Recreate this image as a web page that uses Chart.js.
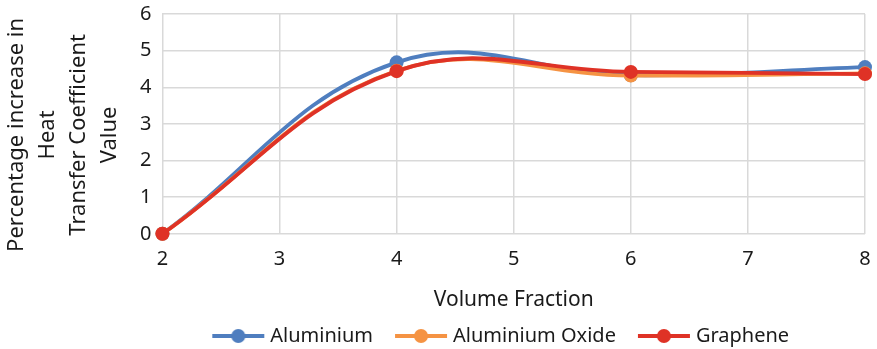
<!DOCTYPE html>
<html>
<head>
<meta charset="utf-8">
<script src="https://cdn.jsdelivr.net/npm/chart.js@4/dist/chart.umd.min.js"></script>
<style>
  html, body { margin: 0; padding: 0; background: #fff; }
  #wrap { width: 877px; height: 349px; }
</style>
</head>
<body>
<div id="wrap"><canvas id="chart"></canvas></div>
<script>
// volume fraction vs. % increase in heat transfer coefficient
const volumeFraction = [2, 4, 6, 8];
const aluminium      = [0, 4.68, 4.33, 4.55];
const aluminiumOxide = [0, 4.45, 4.32, 4.38];
const graphene       = [0, 4.44, 4.42, 4.36];
const yTicks = [0, 1, 2, 3, 4, 5, 6];
const yTitle = ['Percentage increase in', 'Heat', 'Transfer Coefficient', 'Value'];

const FONT = '"Noto Sans", sans-serif';
const TXT = '#1a1a1a';

// legend marker: short line with a dot, with some blank room on its left
function marker(color) {
    const c = document.createElement('canvas');
    c.width = 70; c.height = 16;
    const g = c.getContext('2d');
    g.strokeStyle = color; g.lineWidth = 3.8;
    g.beginPath(); g.moveTo(17, 8); g.lineTo(69, 8); g.stroke();
    g.fillStyle = color;
    g.beginPath(); g.arc(43, 8, 7, 0, Math.PI * 2); g.fill();
    return c;
}

// rotated multi-line y axis title, sitting a bit below the plot's middle
const yTitlePlugin = {
    id: 'yTitle',
    afterDraw(chart) {
        const { ctx, chartArea } = chart;
        ctx.save();
        ctx.translate(17, (chartArea.top + chartArea.bottom) / 2 + 11);
        ctx.rotate(-Math.PI / 2);
        ctx.font = '22px ' + FONT;
        ctx.fillStyle = TXT;
        ctx.textAlign = 'center';
        ctx.textBaseline = 'middle';
        yTitle.forEach((t, i) => ctx.fillText(t, 0, i * 31));
        ctx.restore();
    }
};

// nudge the legend a little left of the plot's centre
const legendShift = {
    id: 'legendShift',
    afterLayout(chart) {
        chart.legend.left -= 19;
        chart.legend.right -= 19;
    }
};

const series = [
    { label: 'Aluminium', values: aluminium, color: '#4F7EBF' },
    { label: 'Aluminium Oxide', values: aluminiumOxide, color: '#F59343' },
    { label: 'Graphene', values: graphene, color: '#DF3226' }
];

new Chart(document.getElementById('chart'), {
    type: 'line',
    data: {
        datasets: series.map((s, i) => ({
            label: s.label,
            data: volumeFraction.map((x, j) => ({ x, y: s.values[j] })),
            borderColor: s.color,
            backgroundColor: s.color,
            borderWidth: 3.8,
            pointRadius: 7,
            pointHoverRadius: 7,
            pointBorderWidth: 0,
            tension: 0.4,
            fill: false,
            clip: false,
            order: series.length - i,   // later series on top
            _marker: marker(s.color)
        }))
    },
    plugins: [yTitlePlugin, legendShift],
    options: {
        responsive: true,
        maintainAspectRatio: false,
        animation: false,
        layout: { padding: { top: 0, right: 0, left: 129, bottom: -7 } },
        scales: {
            x: {
                type: 'linear',
                min: 2, max: 8,
                afterFit: axis => { axis.paddingRight = 12; },
                ticks: { stepSize: 1, color: TXT, font: { family: FONT, size: 20 }, padding: 13 },
                grid: { color: '#d9d9d9', lineWidth: 1.5, drawTicks: false },
                border: { display: false },
                title: { display: true, text: 'Volume Fraction', color: TXT, font: { family: FONT, size: 21 }, padding: { top: 4, bottom: 3 } }
            },
            y: {
                min: 0, max: 6,
                afterBuildTicks: axis => { axis.ticks = yTicks.map(v => ({ value: v })); },
                afterFit: axis => { axis.paddingTop = 14; },
                ticks: { color: TXT, font: { family: FONT, size: 20 }, padding: 11 },
                grid: { color: '#d9d9d9', lineWidth: 1.5, drawTicks: false },
                border: { display: false }
            }
        },
        plugins: {
            tooltip: { enabled: false },
            legend: {
                position: 'bottom',
                fullSize: false,
                labels: {
                    color: TXT,
                    font: { family: FONT, size: 20 },
                    usePointStyle: true,
                    pointStyleWidth: 60,
                    boxHeight: 16,
                    padding: 10,
                    generateLabels: chart => chart.data.datasets.map((d, i) => ({
                        text: d.label,
                        pointStyle: d._marker,
                        fillStyle: d.borderColor,
                        strokeStyle: d.borderColor,
                        lineWidth: 0,
                        hidden: false,
                        datasetIndex: i,
                        fontColor: TXT
                    }))
                }
            }
        }
    }
});
</script>
</body>
</html>
